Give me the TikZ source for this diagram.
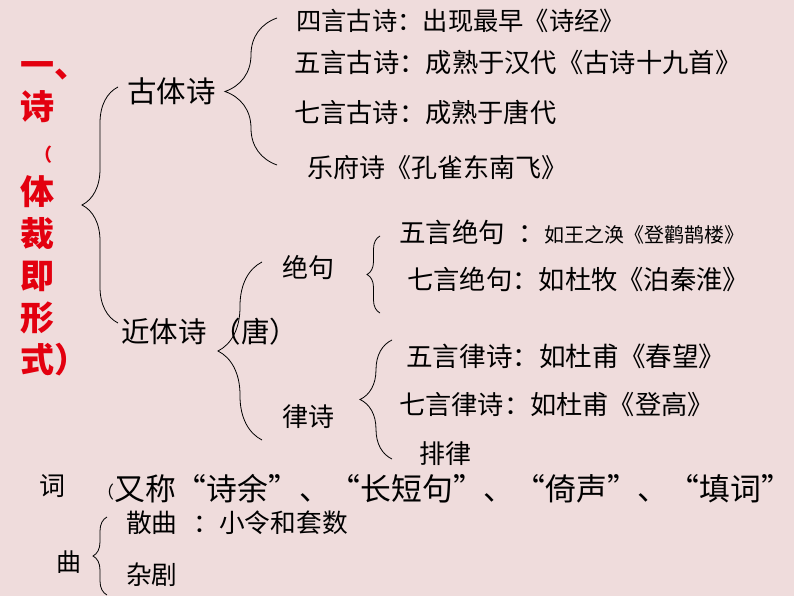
\documentclass[tikz,border=0pt]{standalone}
\usepackage{fontspec}
\setmainfont{Noto Sans CJK SC}
\usetikzlibrary{decorations.pathreplacing}
\definecolor{slidebg}{HTML}{EFDCDC}
\definecolor{titlered}{HTML}{E3000F}

\begin{document}
\begin{tikzpicture}[x=1pt, y=-1pt,
    txt/.style={anchor=west, inner sep=0pt, font=\fontsize{#1}{#1}\selectfont},
    title/.style={txt=34, text=titlered, text height=30pt, text depth=4pt, font=\fontsize{34}{34}\selectfont\bfseries},
    curly/.style={draw=black, line width=0.8pt, decorate, decoration={brace, amplitude=#1}}]
    % Slide
    \path[use as bounding box, fill=slidebg] (0,0) rectangle (794,596);

    % Title column
    \foreach \ch [count=\i from 0] in {一、,诗,{\hspace{14pt}\fontsize{18}{18}\selectfont （},体,裁,即,形,式）} {
        \node[title] (t\i) at (20,65+42*\i) {\ch};
    }

    % First level
    \node[txt=29.5] (gu) at (127,91) {古体诗};
    \node[txt=28.5] (jin) at (121,332) {近体诗\hspace{6pt}（唐）};
    \node[txt=26] (ci) at (39,486) {词};
    \node[txt=25] (qu) at (56,562) {曲};

    % Second level
    \node[txt=26] (jue) at (282,268) {绝句};
    \node[txt=26] (lv) at (282,417) {律诗};

    % Leaves
    \foreach \n/\x/\y/\s/\t in {
        gusi/296/21/25.3/{四言古诗：出现最早《诗经》},
        guwu/294/63/26.3/{五言古诗：成熟于汉代《古诗十九首》},
        guqi/294/112/26.2/{七言古诗：成熟于唐代},
        yuefu/307/168/26/{乐府诗《孔雀东南飞》},
        jueqi/407/279/26.3/{七言绝句：如杜牧《泊秦淮》},
        lvwu/406/356/26.6/{五言律诗：如杜甫《春望》},
        lvqi/399/405/26.2/{七言律诗：如杜甫《登高》},
        pailv/419/454/26/{排律},
        sanqu/126/523/25.7/{散曲\hspace{16pt}：小令和套数},
        zaju/126/575/25.7/{杂剧}} {
        \node[txt=\s] (\n) at (\x,\y) {\t};
    }
    \node[txt=26.5] (juewu) at (399,232) {五言绝句\hspace{13pt}：{\fontsize{20}{20}\selectfont 如王之涣《登鹳鹊楼》}};
    \node[txt=17] (ciparen) at (97,492) {（};
    \node[txt=30.8] (cinote) at (114,489) {又称“诗余”、“长短句”、“倚声”、“填词”};

    % Brace ends
    \coordinate (b1b) at (118,323); \coordinate (b1t) at (118,87);
    \coordinate (b2b) at (277,165); \coordinate (b2t) at (277,18);
    \coordinate (b3b) at (262,440); \coordinate (b3t) at (262,262);
    \coordinate (b4b) at (380,313); \coordinate (b4t) at (380,236);
    \coordinate (b5b) at (392,459); \coordinate (b5t) at (392,340);
    \coordinate (b6b) at (107,595); \coordinate (b6t) at (107,517);

    % Braces
    \foreach \bot/\top/\a in {b1b/b1t/36, b2b/b2t/52, b3b/b3t/44, b4b/b4t/13, b5b/b5t/32, b6b/b6t/14} {
        \draw[curly=\a] (\bot) -- (\top);
    }
\end{tikzpicture}
\end{document}
